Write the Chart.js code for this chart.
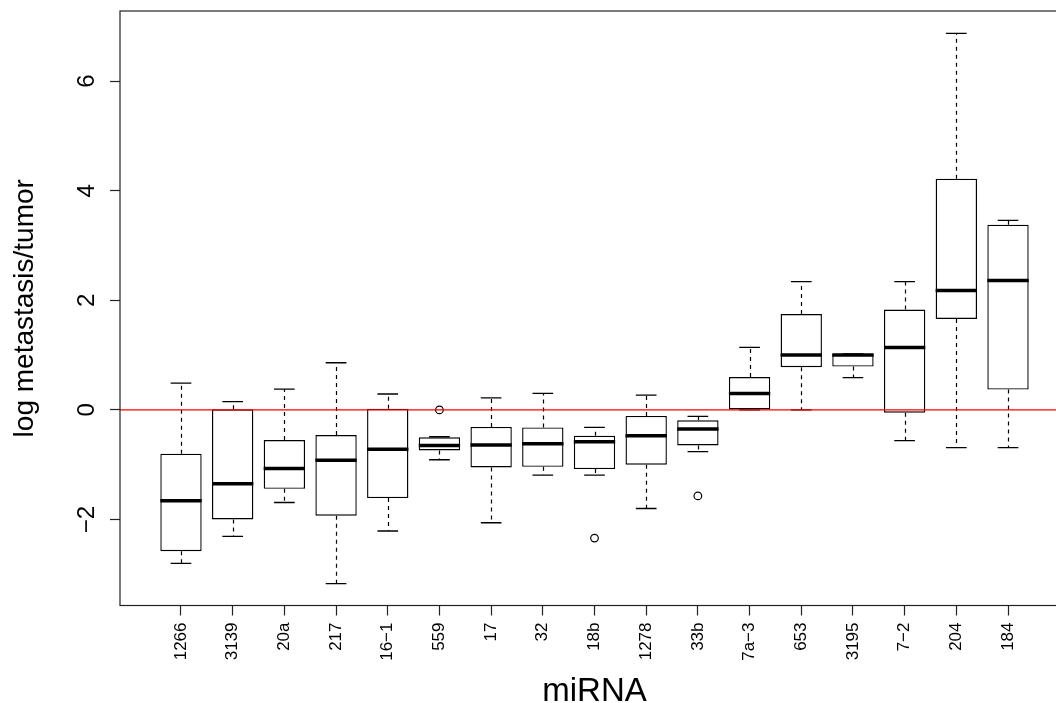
<!DOCTYPE html>
<html><head><meta charset="utf-8">
<script src="https://cdn.jsdelivr.net/npm/chart.js@4.4.1/dist/chart.umd.min.js"></script>
<style>
html,body{margin:0;padding:0;background:#fff;overflow:hidden;width:1056px;height:703px}
#wrap{width:1056px;height:703px;overflow:hidden;position:relative;background:#fff}
canvas{display:block}
</style></head>
<body><div id="wrap"><canvas id="c" width="1080" height="720"></canvas></div>
<script>
const categories = ['1266','3139','20a','217','16\u22121','559','17','32','18b','1278','33b','7a\u22123','653','3195','7\u22122','204','184'];
const whiskerLow  = [-2.80,-2.31,-1.69,-3.17,-2.21,-0.91,-2.06,-1.19,-1.19,-1.80,-0.76, 0.00, 0.00, 0.59,-0.56,-0.69,-0.69];
const q1          = [-2.58,-2.00,-1.44,-1.93,-1.61,-0.74,-1.05,-1.04,-1.08,-1.00,-0.65, 0.00, 0.78, 0.79,-0.05, 1.66, 0.37];
const median      = [-1.66,-1.35,-1.07,-0.92,-0.72,-0.65,-0.64,-0.62,-0.58,-0.47,-0.35, 0.30, 1.00, 1.00, 1.14, 2.18, 2.36];
const q3          = [-0.80, 0.01,-0.55,-0.46, 0.02,-0.50,-0.31,-0.32,-0.47,-0.11,-0.19, 0.60, 1.75, 1.02, 1.83, 4.22, 3.38];
const whiskerHigh = [ 0.49, 0.15, 0.38, 0.86, 0.29,-0.49, 0.22, 0.30,-0.32, 0.27,-0.12, 1.14, 2.34, 1.02, 2.34, 6.87, 3.46];
const outlierCategory = ['559','18b','33b'];
const outlierValue    = [ 0.00, -2.34, -1.57];
const yTicks = [-2, 0, 2, 4, 6];
const referenceLine = 0;

const FONT = '"Liberation Sans", Arial, Helvetica, sans-serif';
const unitPx = (chart, f) => {
  const s = chart.scales.x;
  return Math.abs(s.getPixelForValue(1) - s.getPixelForValue(0)) * f;
};

const boxExtras = {
  id: 'boxExtras',
  beforeDatasetsDraw(chart) {
    const {ctx, scales: {x, y}} = chart;
    ctx.save();
    ctx.strokeStyle = '#000';
    ctx.lineWidth = 1.2;
    ctx.setLineDash([4, 4]);
    categories.forEach((c, i) => {
      const px = Math.round(x.getPixelForValue(i + 1)) + 0.5;
      ctx.beginPath();
      ctx.moveTo(px, y.getPixelForValue(q3[i]));
      ctx.lineTo(px, y.getPixelForValue(whiskerHigh[i]));
      ctx.moveTo(px, y.getPixelForValue(q1[i]));
      ctx.lineTo(px, y.getPixelForValue(whiskerLow[i]));
      ctx.stroke();
    });
    ctx.restore();
  },
  afterDatasetsDraw(chart) {
    const {ctx, chartArea: a, scales: {y}} = chart;
    const py = y.getPixelForValue(referenceLine);
    ctx.save();
    ctx.strokeStyle = '#ff0000';
    ctx.lineWidth = 1.2;
    ctx.beginPath();
    ctx.moveTo(a.left, py);
    ctx.lineTo(a.right, py);
    ctx.stroke();
    ctx.restore();
  },
  afterDraw(chart) {
    const {ctx, chartArea: a} = chart;
    ctx.save();
    ctx.strokeStyle = '#222';
    ctx.lineWidth = 1.2;
    ctx.strokeRect(a.left, a.top, a.right - a.left, a.bottom - a.top);
    ctx.restore();
  }
};

new Chart(document.getElementById('c'), {
  type: 'bar',
  data: {
    datasets: [
      {
        type: 'scatter',
        order: 1,
        data: categories.map((c, i) => ({x: i + 1, y: median[i]})),
        pointStyle: 'line',
        radius: ctx => unitPx(ctx.chart, 0.4),
        borderColor: '#000',
        borderWidth: 3.5
      },
      {
        type: 'scatter',
        order: 2,
        data: categories.map((c, i) => ({x: i + 1, y: whiskerHigh[i]}))
          .concat(categories.map((c, i) => ({x: i + 1, y: whiskerLow[i]}))),
        pointStyle: 'line',
        radius: ctx => unitPx(ctx.chart, 0.2),
        borderColor: '#000',
        borderWidth: 1.3
      },
      {
        type: 'scatter',
        order: 3,
        data: outlierCategory.map((c, i) => ({x: categories.indexOf(c) + 1, y: outlierValue[i]})),
        pointStyle: 'circle',
        radius: 3.8,
        backgroundColor: 'rgba(0,0,0,0)',
        borderColor: '#000',
        borderWidth: 1.2
      },
      {
        type: 'bar',
        order: 10,
        data: categories.map((c, i) => ({x: i + 1, y: [q1[i], q3[i]]})),
        backgroundColor: '#fff',
        borderColor: '#000',
        borderWidth: 1.4,
        borderSkipped: false,
        barPercentage: 0.8,
        categoryPercentage: 1.0
      }
    ]
  },
  options: {
    responsive: false,
    animation: false,
    events: [],
    layout: {padding: {top: 11, right: 11, left: 0, bottom: 0}},
    plugins: {legend: {display: false}, tooltip: {enabled: false}},
    scales: {
      x: {
        type: 'linear',
        offset: false,
        min: -0.18,
        max: 18.18,
        afterBuildTicks: s => { s.ticks = categories.map((c, i) => ({value: i + 1})); },
        afterFit: s => { s.height = 114.5; s.paddingLeft = 0; s.paddingRight = 0; },
        ticks: {
          autoSkip: false, minRotation: 90, maxRotation: 90, padding: 7,
          color: '#000', font: {family: FONT, size: 17},
          callback: (v, i) => categories[i]
        },
        grid: {offset: false, drawOnChartArea: false, drawTicks: true, tickLength: 10, color: '#222', tickWidth: 1.2},
        border: {display: false},
        title: {display: true, text: 'miRNA', color: '#000', font: {family: FONT, size: 33}, padding: {top: 0, bottom: 8.5}}
      },
      y: {
        type: 'linear',
        min: -3.57,
        max: 7.28,
        afterBuildTicks: s => { s.ticks = yTicks.map(v => ({value: v})); },
        afterFit: s => { s.width = 120; s.paddingTop = 0; s.paddingBottom = 0; },
        ticks: {
          minRotation: 90, maxRotation: 90, crossAlign: 'center', padding: 9,
          color: '#000', font: {family: FONT, size: 24},
          callback: v => (v < 0 ? '\u2212' + Math.abs(v) : String(v))
        },
        grid: {drawOnChartArea: false, drawTicks: true, tickLength: 10, color: '#222', tickWidth: 1.2},
        border: {display: false},
        title: {display: true, text: 'log metastasis/tumor', color: '#000', font: {family: FONT, size: 28}, padding: {top: 8, bottom: 0}}
      }
    }
  },
  plugins: [boxExtras]
});
</script>
</body></html>
